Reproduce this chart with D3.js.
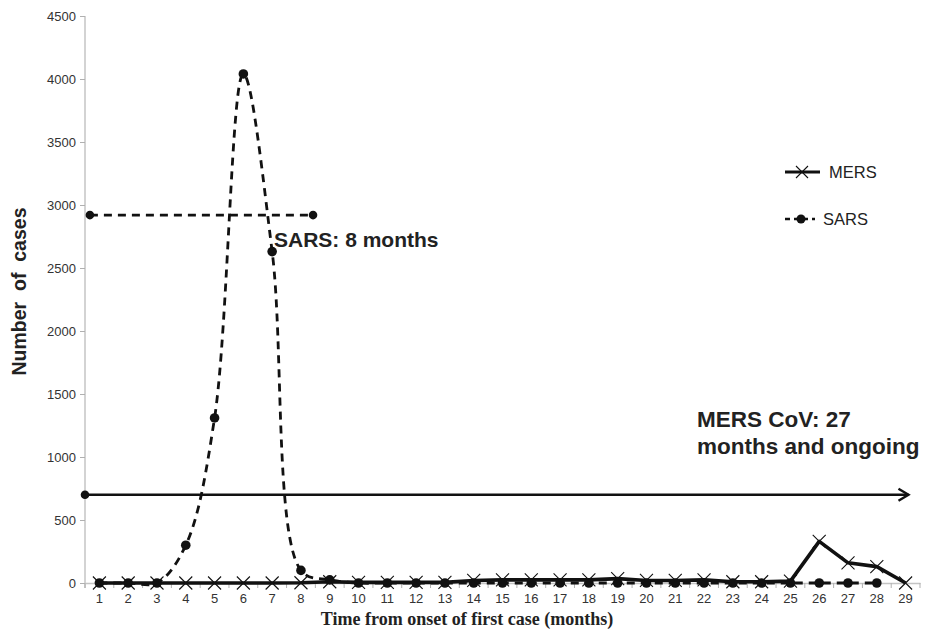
<!DOCTYPE html>
<html><head><meta charset="utf-8">
<script src="https://cdn.jsdelivr.net/npm/d3@7"></script>
<style>body{margin:0;background:#fff}</style>
</head><body>
<svg id="c" width="932" height="636"></svg>
<script>
const months = d3.range(1, 30);
const yTicks = [0,500,1000,1500,2000,2500,3000,3500,4000,4500];
const mersValues = [0,0,0,0,0,0,0,2,10,5,5,5,5,20,25,25,25,25,35,20,20,25,10,10,15,330,160,130,0];
const sarsMonths = d3.range(1, 29);
const sarsValues = [0,0,0,300,1310,4040,2630,100,25,0,0,0,0,0,0,0,0,0,0,0,0,0,0,0,0,0,0,0];
const sarsSpan = {from: 0.17, to: 7.92, value: 2920, label: "SARS: 8 months"};
const mersSpan = {from: 0, to: 28.6, value: 700, label: ["MERS CoV: 27", "months and ongoing"]};
const legendItems = ["MERS", "SARS"];

const svg = d3.select("#c");
const L = 85, R = 920, T = 16, B = 583;
const x = d3.scaleBand().domain(months).range([L, R]).padding(0);
const xLin = d3.scaleLinear().domain([0, 29]).range([L, R]);
const y = d3.scaleLinear().domain([0, 4500]).range([B, T]);
const cx = m => x(m) + x.bandwidth() / 2;
const SANS = "'Liberation Sans', Arial, Helvetica, sans-serif";

// Y axis
const ya = svg.append("g").attr("transform", `translate(${L},0)`)
  .call(d3.axisLeft(y).tickValues(yTicks).tickFormat(d3.format("d")).tickSize(5).tickPadding(4).tickSizeOuter(0));
ya.select(".domain").attr("stroke", "#c4c4c4").attr("stroke-width", 1.5).attr("d", `M0,${T}V${B+5}`);
ya.selectAll(".tick line").attr("stroke", "#b0b0b0");
ya.selectAll(".tick text").attr("fill", "#333").style("font-family", SANS).style("font-size", "13px");

// X axis
const xa = svg.append("g").attr("transform", `translate(0,${B})`)
  .call(d3.axisBottom(x).tickSize(0).tickPadding(11).tickSizeOuter(0));
xa.select(".domain").attr("stroke", "#c4c4c4").attr("stroke-width", 1.5);
xa.selectAll(".tick text").attr("fill", "#333").style("font-family", SANS).style("font-size", "13px");
svg.append("g").selectAll("line").data(d3.range(0, 30)).join("line")
  .attr("x1", d => xLin(d)).attr("x2", d => xLin(d)).attr("y1", B).attr("y2", B + 5)
  .attr("stroke", "#b0b0b0");

// Axis titles
svg.append("text").attr("transform", `translate(26,${(T + B) / 2 - 8}) rotate(-90)`)
  .attr("text-anchor", "middle").style("font-family", SANS)
  .style("font-weight", "bold").style("font-size", "19.5px").attr("fill", "#222")
  .attr("xml:space", "preserve").text("Number  of  cases");
svg.append("text").attr("x", 467).attr("y", 625).attr("text-anchor", "middle")
  .style("font-family", "'Liberation Serif', 'Times New Roman', serif").style("font-weight", "bold")
  .style("font-size", "18px").attr("fill", "#222").text("Time from onset of first case (months)");

// MERS series
const mersPts = months.map((m, i) => [cx(m), y(mersValues[i])]);
svg.append("path").attr("d", d3.line()(mersPts)).attr("fill", "none")
  .attr("stroke", "#111").attr("stroke-width", 3.6).attr("stroke-linejoin", "round");

// SARS series
const sarsPts = sarsMonths.map((m, i) => [cx(m), y(sarsValues[i])]);
svg.append("path").attr("d", d3.line().curve(d3.curveCatmullRom.alpha(0.5))(sarsPts)).attr("fill", "none")
  .attr("stroke", "#111").attr("stroke-width", 2.8).attr("stroke-dasharray", "8,6");
svg.append("g").selectAll("circle").data(sarsPts).join("circle")
  .attr("cx", d => d[0]).attr("cy", d => d[1]).attr("r", 4.8).attr("fill", "#111");

// MERS markers
const xm = (g, px, py, s) => g.append("path")
  .attr("d", `M${px - s},${py - s}L${px + s},${py + s}M${px - s},${py + s}L${px + s},${py - s}`)
  .attr("stroke", "#111").attr("stroke-width", 1.1).attr("fill", "none");
const mg = svg.append("g");
mersPts.forEach(p => xm(mg, p[0], p[1], 6.5));

// SARS span annotation
svg.append("line").attr("x1", xLin(sarsSpan.from)).attr("x2", xLin(sarsSpan.to))
  .attr("y1", y(sarsSpan.value)).attr("y2", y(sarsSpan.value))
  .attr("stroke", "#111").attr("stroke-width", 2.8).attr("stroke-dasharray", "8,6");
[sarsSpan.from, sarsSpan.to].forEach(v => svg.append("circle")
  .attr("cx", xLin(v)).attr("cy", y(sarsSpan.value)).attr("r", 4.3).attr("fill", "#111"));
svg.append("text").attr("x", 274).attr("y", 247)
  .style("font-family", SANS).style("font-weight", "bold")
  .style("font-size", "21px").attr("fill", "#222").text(sarsSpan.label);

// MERS span arrow
const ay = y(mersSpan.value), ax2 = xLin(mersSpan.to);
svg.append("line").attr("x1", xLin(mersSpan.from)).attr("x2", ax2).attr("y1", ay).attr("y2", ay)
  .attr("stroke", "#111").attr("stroke-width", 2.4);
svg.append("circle").attr("cx", xLin(mersSpan.from)).attr("cy", ay).attr("r", 4.3).attr("fill", "#111");
svg.append("path").attr("d", `M${ax2 - 10},${ay - 6}L${ax2},${ay}L${ax2 - 10},${ay + 6}`)
  .attr("fill", "none").attr("stroke", "#111").attr("stroke-width", 2.4);
mersSpan.label.forEach((t, i) => svg.append("text").attr("x", 697).attr("y", 427 + i * 27)
  .style("font-family", SANS).style("font-weight", "bold")
  .style("font-size", "22.5px").attr("fill", "#222").text(t));

// Legend
const lg = svg.append("g");
lg.append("line").attr("x1", 785).attr("x2", 820).attr("y1", 172).attr("y2", 172).attr("stroke", "#111").attr("stroke-width", 3);
xm(lg, 802, 172, 6);
lg.append("text").attr("x", 829).attr("y", 178).style("font-family", SANS)
  .style("font-size", "16.5px").attr("fill", "#222").text(legendItems[0]);
lg.append("line").attr("x1", 785).attr("x2", 815).attr("y1", 219).attr("y2", 219).attr("stroke", "#111")
  .attr("stroke-width", 2.6).attr("stroke-dasharray", "5,4");
lg.append("circle").attr("cx", 801).attr("cy", 219).attr("r", 4.5).attr("fill", "#111");
lg.append("text").attr("x", 823).attr("y", 225).style("font-family", SANS)
  .style("font-size", "16.5px").attr("fill", "#222").text(legendItems[1]);
</script>
</body></html>
